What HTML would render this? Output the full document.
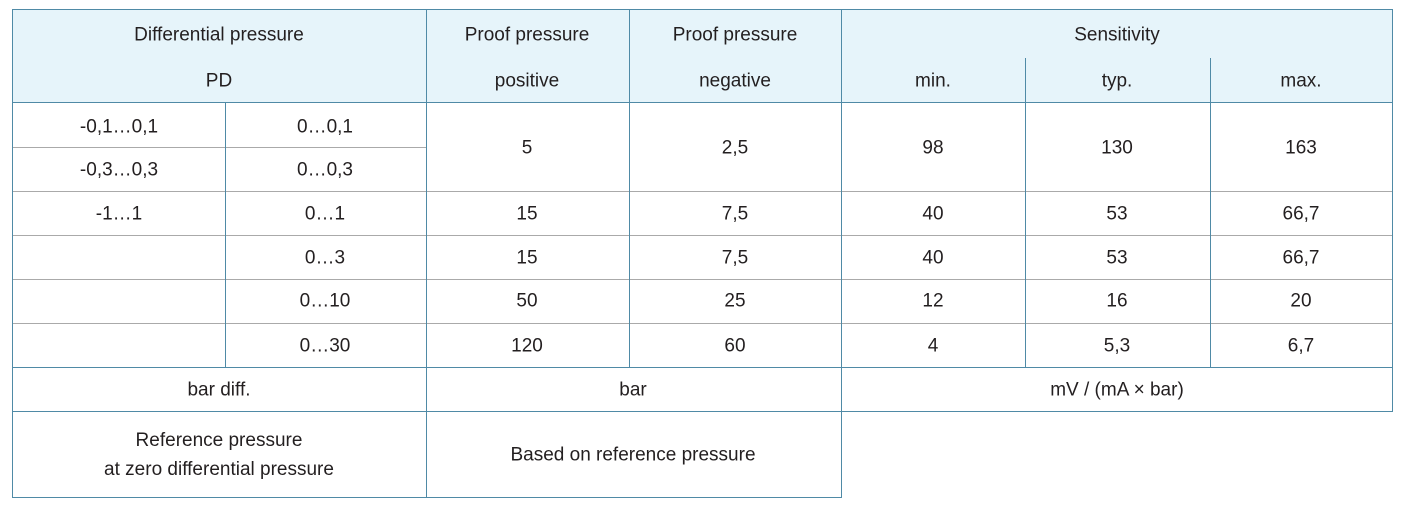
<!DOCTYPE html>
<html><head><meta charset="utf-8"><style>
body{margin:0;width:1407px;height:506px;background:#fff;position:relative;font-family:"Liberation Sans",sans-serif;font-size:19px;color:#231f20;overflow:hidden}
.t{position:absolute;transform:translate(-50%,-50%);white-space:nowrap;text-align:center;line-height:29px}
.h{position:absolute;height:0;border-top:1.5px solid #aaa}
.hb{position:absolute;height:0;border-top:1.5px solid #4f8aa6}
.v{position:absolute;width:0;border-left:1.5px solid #4f8aa6}
</style></head><body>
<div style="position:absolute;left:12px;top:9px;width:1381px;height:94px;background:#e6f4fa"></div>
<!-- borders -->
<div class="hb" style="left:12px;top:9px;width:1381px"></div>
<div class="hb" style="left:12px;top:102px;width:1381px"></div>
<div class="h" style="left:12px;top:147px;width:414px"></div>
<div class="h" style="left:12px;top:191px;width:1381px"></div>
<div class="h" style="left:12px;top:235px;width:1381px"></div>
<div class="h" style="left:12px;top:279px;width:1381px"></div>
<div class="h" style="left:12px;top:323px;width:1381px"></div>
<div class="hb" style="left:12px;top:367px;width:1381px"></div>
<div class="hb" style="left:12px;top:411px;width:1381px"></div>
<div class="hb" style="left:12px;top:497px;width:829px"></div>
<div class="v" style="left:12px;top:9px;height:489px"></div>
<div class="v" style="left:225px;top:103px;height:264px"></div>
<div class="v" style="left:426px;top:9px;height:489px"></div>
<div class="v" style="left:629px;top:9px;height:358px"></div>
<div class="v" style="left:841px;top:9px;height:489px"></div>
<div class="v" style="left:1025px;top:58px;height:309px"></div>
<div class="v" style="left:1210px;top:58px;height:309px"></div>
<div class="v" style="left:1392px;top:9px;height:402px"></div>
<!-- header -->
<div class="t" style="left:219px;top:35px">Differential pressure</div>
<div class="t" style="left:219px;top:81px">PD</div>
<div class="t" style="left:527px;top:35px">Proof pressure</div>
<div class="t" style="left:527px;top:81px">positive</div>
<div class="t" style="left:735px;top:35px">Proof pressure</div>
<div class="t" style="left:735px;top:81px">negative</div>
<div class="t" style="left:1117px;top:35px">Sensitivity</div>
<div class="t" style="left:933px;top:81px">min.</div>
<div class="t" style="left:1117px;top:81px">typ.</div>
<div class="t" style="left:1301px;top:81px">max.</div>
<!-- body -->
<div class="t" style="left:119px;top:127px">-0,1…0,1</div>
<div class="t" style="left:325px;top:127px">0…0,1</div>
<div class="t" style="left:119px;top:170px">-0,3…0,3</div>
<div class="t" style="left:325px;top:170px">0…0,3</div>
<div class="t" style="left:527px;top:148px">5</div>
<div class="t" style="left:735px;top:148px">2,5</div>
<div class="t" style="left:933px;top:148px">98</div>
<div class="t" style="left:1117px;top:148px">130</div>
<div class="t" style="left:1301px;top:148px">163</div>

<div class="t" style="left:119px;top:214px">-1…1</div>
<div class="t" style="left:325px;top:214px">0…1</div>
<div class="t" style="left:527px;top:214px">15</div>
<div class="t" style="left:735px;top:214px">7,5</div>
<div class="t" style="left:933px;top:214px">40</div>
<div class="t" style="left:1117px;top:214px">53</div>
<div class="t" style="left:1301px;top:214px">66,7</div>

<div class="t" style="left:325px;top:258px">0…3</div>
<div class="t" style="left:527px;top:258px">15</div>
<div class="t" style="left:735px;top:258px">7,5</div>
<div class="t" style="left:933px;top:258px">40</div>
<div class="t" style="left:1117px;top:258px">53</div>
<div class="t" style="left:1301px;top:258px">66,7</div>

<div class="t" style="left:325px;top:301px">0…10</div>
<div class="t" style="left:527px;top:301px">50</div>
<div class="t" style="left:735px;top:301px">25</div>
<div class="t" style="left:933px;top:301px">12</div>
<div class="t" style="left:1117px;top:301px">16</div>
<div class="t" style="left:1301px;top:301px">20</div>

<div class="t" style="left:325px;top:346px">0…30</div>
<div class="t" style="left:527px;top:346px">120</div>
<div class="t" style="left:735px;top:346px">60</div>
<div class="t" style="left:933px;top:346px">4</div>
<div class="t" style="left:1117px;top:346px">5,3</div>
<div class="t" style="left:1301px;top:346px">6,7</div>

<div class="t" style="left:219px;top:390px">bar diff.</div>
<div class="t" style="left:633px;top:390px">bar</div>
<div class="t" style="left:1117px;top:390px">mV / (mA × bar)</div>
<div class="t" style="left:219px;top:455px">Reference pressure<br>at zero differential pressure</div>
<div class="t" style="left:633px;top:455px">Based on reference pressure</div>
</body></html>
